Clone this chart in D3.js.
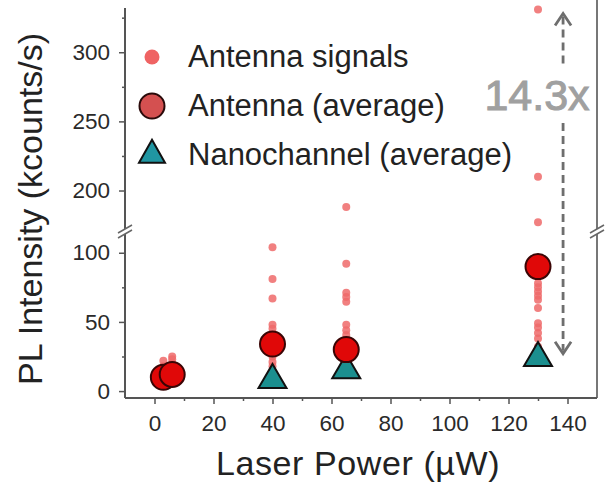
<!doctype html>
<html lang="en">
<head>
<meta charset="utf-8">
<title>PL Intensity vs Laser Power</title>
<script src="https://d3js.org/d3.v7.min.js"></script>
<style>
  body { margin: 0; background: #fff; }
  svg text { font-family: "Liberation Sans", Arial, sans-serif; }
</style>
</head>
<body>
<svg width="607" height="485"></svg>
<script>
// antenna signals, one list per laser power (kcounts/s)
var signalPowers = [3, 6, 40, 65, 130];
var signalValues = [
  [22, 18, 14, 10],
  [25, 23, 20, 15, 12],
  [104, 81, 67, 48, 45, 38, 30, 25, 21, 18],
  [188, 92, 71, 68, 64.5, 48, 44, 40.6, 35, 27, 24],
  [331, 210, 177, 78, 75, 72, 69, 66, 60, 49, 46, 42, 38, 32, 30]
];

var antennaPower = [3, 6, 40, 65, 130];
var antennaAvg = [10, 12, 34, 30, 90];

var channelPower = [40, 65, 130];
var channelAvg = [8, 15, 24];

var xTicks = [0, 20, 40, 60, 80, 100, 120, 140];
var xMinor = [10, 30, 50, 70, 90, 110, 130];
var lowTicks = [0, 50, 100];
var lowMinor = [25, 75];
var highTicks = [200, 250, 300];
var highMinor = [225, 275, 325];

var legendLabels = ["Antenna signals", "Antenna (average)", "Nanochannel (average)"];
var foldLabel = "14.3x";

var svg = d3.select("svg");

var plotL = 125, plotR = 597, plotB = 398, plotT = 8, breakY = 232;

var x = d3.scaleLinear().domain([-10, 150]).range([plotL, plotR]);
var yLow = d3.scaleLinear().domain([-5, 115]).range([plotB, breakY]);
var yHigh = d3.scaleLinear().domain([170, 332]).range([breakY, plotT]);

function y(v) { return v > 140 ? yHigh(v) : yLow(v); }

function tri(w, h) {
  return "M0," + (-2 * h / 3) + "L" + (w / 2) + "," + (h / 3) + "L" + (-w / 2) + "," + (h / 3) + "Z";
}

// axes
function styleAxis(g) {
  g.select(".domain").remove();
  g.selectAll("line").attr("stroke", "#555").attr("stroke-width", 1.5);
  g.selectAll("text").attr("fill", "#2a2a2a").style("font-size", "22.5px");
}

svg.append("g").attr("transform", "translate(0," + plotB + ")")
  .call(d3.axisBottom(x).tickValues(xTicks).tickSize(6).tickPadding(11).tickFormat(d3.format("d")))
  .call(styleAxis);
svg.append("g").attr("transform", "translate(0," + plotB + ")")
  .call(d3.axisBottom(x).tickValues(xMinor).tickSize(3).tickFormat(""))
  .call(styleAxis);

svg.append("g").attr("transform", "translate(" + plotL + ",0)")
  .call(d3.axisLeft(yLow).tickValues(lowTicks).tickSize(6).tickPadding(9))
  .call(styleAxis);
svg.append("g").attr("transform", "translate(" + plotL + ",0)")
  .call(d3.axisLeft(yLow).tickValues(lowMinor).tickSize(3).tickFormat(""))
  .call(styleAxis);
svg.append("g").attr("transform", "translate(" + plotL + ",0)")
  .call(d3.axisLeft(yHigh).tickValues(highTicks).tickSize(6).tickPadding(9))
  .call(styleAxis);
svg.append("g").attr("transform", "translate(" + plotL + ",0)")
  .call(d3.axisLeft(yHigh).tickValues(highMinor).tickSize(3).tickFormat(""))
  .call(styleAxis);

svg.append("line").attr("x1", plotL).attr("x2", plotL).attr("y1", plotT).attr("y2", plotB)
  .attr("stroke", "#555").attr("stroke-width", 2);
svg.append("line").attr("x1", plotR).attr("x2", plotR).attr("y1", 0).attr("y2", plotB)
  .attr("stroke", "#777").attr("stroke-width", 2);
svg.append("line").attr("x1", plotL).attr("x2", plotR).attr("y1", plotB).attr("y2", plotB)
  .attr("stroke", "#555").attr("stroke-width", 2);

// axis break marks
[plotL, plotR].forEach(function(bx) {
  svg.append("path").attr("d", "M" + (bx - 7) + "," + (breakY + 6) + "L" + (bx + 7) + "," + (breakY - 2) +
      "L" + (bx + 7) + "," + (breakY - 7) + "L" + (bx - 7) + "," + (breakY + 1) + "Z")
    .attr("fill", "#fff");
  [0, 5].forEach(function(o) {
    svg.append("line").attr("x1", bx - 7).attr("y1", breakY + 6 - o).attr("x2", bx + 7).attr("y2", breakY - 2 - o)
      .attr("stroke", "#666").attr("stroke-width", 1.5);
  });
});

// axis titles
svg.append("text").attr("x", 358).attr("y", 475).attr("text-anchor", "middle")
  .attr("fill", "#222").style("font-size", "34px").style("letter-spacing", "0.6px").text("Laser Power (µW)");
svg.append("text").attr("transform", "translate(42," + 209 + ") rotate(-90)").attr("text-anchor", "middle")
  .attr("fill", "#222").style("font-size", "34px").text("PL Intensity (kcounts/s)");

// antenna signals
var signals = [];
signalPowers.forEach(function(p, i) {
  signalValues[i].forEach(function(v) { signals.push({ p: p, v: v }); });
});
svg.append("g").selectAll("circle").data(signals).enter().append("circle")
  .attr("cx", function(d) { return x(d.p); })
  .attr("cy", function(d) { return y(d.v); })
  .attr("r", 4).attr("fill", "#ee6a6a").attr("opacity", 0.85);

// nanochannel averages
svg.append("g").selectAll("path").data(channelPower).enter().append("path")
  .attr("d", tri(28, 24))
  .attr("transform", function(d, i) { return "translate(" + x(d) + "," + y(channelAvg[i]) + ")"; })
  .attr("fill", "#1b8f8f").attr("stroke", "#111").attr("stroke-width", 2);

// antenna averages
svg.append("g").selectAll("circle").data(antennaPower).enter().append("circle")
  .attr("cx", function(d) { return x(d); })
  .attr("cy", function(d, i) { return y(antennaAvg[i]); })
  .attr("r", 12.5).attr("fill", "#e00808").attr("stroke", "#3a0505").attr("stroke-width", 2);

// fold arrow
var ax = x(138.5), aTop = y(328), aBot = y(27);
svg.append("line").attr("x1", ax).attr("x2", ax).attr("y1", aTop + 3).attr("y2", 64)
  .attr("stroke", "#6e6e6e").attr("stroke-width", 2.8).attr("stroke-dasharray", "8,5");
svg.append("line").attr("x1", ax).attr("x2", ax).attr("y1", 123).attr("y2", aBot - 3)
  .attr("stroke", "#6e6e6e").attr("stroke-width", 2.8).attr("stroke-dasharray", "8,5");
svg.append("path").attr("d", "M" + (ax - 8) + "," + (aTop + 12) + "L" + ax + "," + aTop + "L" + (ax + 8) + "," + (aTop + 12))
  .attr("fill", "none").attr("stroke", "#6e6e6e").attr("stroke-width", 2.8);
svg.append("path").attr("d", "M" + (ax - 8) + "," + (aBot - 12) + "L" + ax + "," + aBot + "L" + (ax + 8) + "," + (aBot - 12))
  .attr("fill", "none").attr("stroke", "#6e6e6e").attr("stroke-width", 2.8);
svg.append("text").attr("x", 537).attr("y", 110).attr("text-anchor", "middle")
  .attr("fill", "#a0a0a0").attr("stroke", "#a0a0a0").attr("stroke-width", 1)
  .style("font-size", "43px").text(foldLabel);

// legend
var lx = 152, rows = [57, 106, 155];
svg.append("circle").attr("cx", lx).attr("cy", rows[0]).attr("r", 7.5).attr("fill", "#ef6363");
svg.append("circle").attr("cx", lx).attr("cy", rows[1]).attr("r", 12.5)
  .attr("fill", "#d45050").attr("stroke", "#2a0a0a").attr("stroke-width", 2);
svg.append("path").attr("d", tri(26, 23)).attr("transform", "translate(" + lx + "," + rows[2] + ")")
  .attr("fill", "#2096a2").attr("stroke", "#111").attr("stroke-width", 2);
svg.append("g").selectAll("text").data(legendLabels).enter().append("text")
  .attr("x", 188).attr("y", function(d, i) { return rows[i] + 10; })
  .attr("fill", "#222").style("font-size", "31px").text(function(d) { return d; });
</script>
</body>
</html>
